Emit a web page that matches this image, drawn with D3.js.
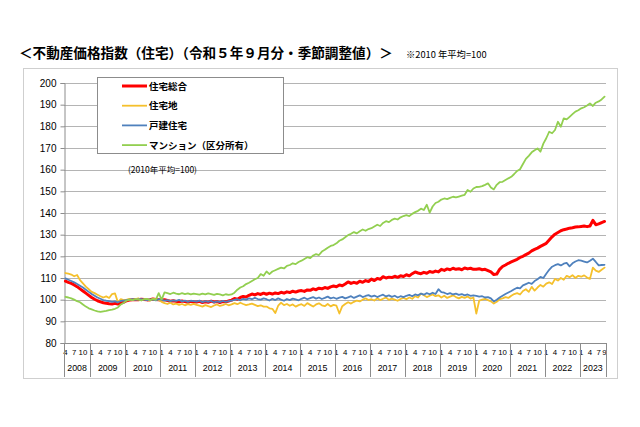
<!DOCTYPE html>
<html><head><meta charset="utf-8">
<script src="https://cdn.jsdelivr.net/npm/d3@7"></script>
<style>
html,body{margin:0;padding:0;background:#fff;}
svg{display:block;}
</style></head>
<body>
<svg id="c" width="640" height="427"></svg>
<script>
// ---- data (monthly, Apr 2008 - Sep 2023) ----
const startYear = 2008, startMonth = 4;
const yearLabels = ["2008","2009","2010","2011","2012","2013","2014","2015","2016","2017","2018","2019","2020","2021","2022","2023"];
const yTicks = [80,90,100,110,120,130,140,150,160,170,180,190,200];
const seriesNames = ["住宅総合","住宅地","戸建住宅","マンション（区分所有）"];

const totalHousing = [
 108.6,108.0,107.5,106.8,106.0,105.0,104.0,103.0,102.0,
 101.0,100.2,99.5,99.0,98.6,98.3,98.1,98.0,98.3,98.0,98.5,98.8,
 99.5,99.8,100.0,100.1,100.0,100.2,100.1,99.9,100.0,100.3,100.1,100.0,
 99.8,100.0,99.6,99.3,99.5,99.2,99.0,99.4,99.1,98.8,99.2,99.0,
 98.9,99.2,98.7,99.0,98.8,99.3,98.9,99.1,98.7,99.2,99.0,99.4,
 99.8,100.5,100.2,101.0,101.5,101.2,102.0,102.6,102.2,102.8,102.4,103.0,
 102.5,103.0,102.6,103.1,102.8,103.4,103.0,103.6,103.3,103.9,103.5,104.0,
 104.2,103.8,104.5,104.3,105.0,104.6,105.3,105.0,105.6,105.2,105.9,106.3,
 106.0,106.8,106.4,107.2,108.2,107.5,108.0,107.6,108.5,108.0,108.8,108.4,
 109.5,108.8,109.8,109.4,110.6,110.0,110.4,110.2,110.8,110.3,111.0,110.7,
 111.5,111.0,112.0,112.8,112.3,112.0,112.6,112.2,113.0,112.6,113.2,112.8,
 114.0,113.5,114.2,113.8,114.5,114.0,114.3,113.8,114.6,114.2,114.5,114.0,
 114.0,114.3,113.8,114.0,113.4,112.8,111.6,111.8,114.0,115.3,116.0,116.8,
 117.4,118.0,118.6,119.5,120.0,120.8,121.5,122.5,123.2,123.8,124.6,125.3,
 126.0,127.5,129.0,130.2,131.0,131.8,132.3,132.6,133.0,133.2,133.5,133.6,
 133.8,134.0,133.7,134.0,136.6,134.6,135.0,135.6,136.1
];
const residentialLand = [
 112.3,112.0,111.6,110.8,111.4,109.0,107.5,106.0,104.8,
 103.6,103.0,102.3,101.6,101.0,101.5,100.8,102.6,102.9,98.8,100.2,99.8,
 100.0,100.4,99.8,100.3,100.6,99.7,100.2,100.0,99.6,100.4,100.2,99.9,
 99.0,98.4,98.0,98.6,97.8,98.2,97.6,98.0,97.4,97.9,97.6,98.1,
 97.6,97.2,96.8,97.5,97.0,96.6,97.3,97.8,97.1,97.5,98.0,97.4,
 97.8,98.4,97.9,98.6,98.0,97.5,97.8,98.2,97.6,97.0,97.4,96.8,
 96.8,96.0,95.8,93.8,97.2,98.6,97.5,98.0,97.2,97.8,96.8,97.5,
 97.9,97.1,98.4,97.6,96.8,97.8,98.3,97.4,97.0,98.0,96.9,97.6,
 97.2,93.6,97.0,98.0,98.8,98.2,99.0,99.6,99.2,100.0,100.6,99.8,
 100.2,99.6,100.6,99.8,100.4,101.0,99.9,100.5,100.0,99.5,100.3,100.8,
 100.2,101.0,100.4,101.6,101.0,102.8,102.0,101.2,101.8,102.4,101.6,102.0,
 101.0,101.8,100.8,101.4,102.0,101.2,100.6,101.3,100.8,101.5,100.5,101.0,
 93.6,99.6,100.0,100.4,99.8,99.2,98.2,99.0,100.2,100.6,101.2,100.8,
 101.8,102.6,103.0,102.4,104.0,104.8,103.6,105.9,104.2,105.6,106.8,106.0,
 107.4,108.0,107.2,109.6,108.8,110.0,109.2,111.0,110.4,111.3,110.0,111.0,
 110.6,111.2,110.2,109.6,114.8,113.4,112.8,113.8,114.8
];
const detachedHouses = [
 109.8,109.2,108.6,108.0,107.2,106.4,105.6,104.6,103.6,
 102.6,101.8,101.0,100.4,99.8,99.5,99.3,99.0,99.2,98.8,99.4,99.6,
 99.8,100.0,100.2,99.9,100.1,100.3,100.0,99.8,100.1,100.0,99.7,100.2,
 100.0,99.6,99.8,99.3,99.7,99.4,99.9,99.2,99.6,99.0,99.5,99.3,
 99.1,99.6,98.8,99.3,99.0,99.5,98.7,99.2,98.9,99.4,99.0,99.3,
 99.6,99.9,100.2,99.7,100.4,100.0,100.6,100.2,100.8,100.3,100.0,100.6,
 100.2,99.6,100.4,99.8,100.6,100.0,99.5,100.3,99.8,100.5,100.1,99.7,
 100.4,100.9,100.2,100.7,101.2,100.5,101.0,100.3,100.8,101.4,100.6,101.0,
 100.4,100.9,101.3,100.6,101.1,101.6,100.8,101.4,102.0,101.2,101.7,102.1,
 101.4,101.9,101.2,101.8,102.3,101.5,102.0,101.3,101.8,101.0,101.6,101.2,
 101.8,102.2,101.6,102.4,102.0,102.8,102.3,103.0,102.5,103.2,102.6,104.8,
 103.5,103.2,102.6,103.0,102.4,102.8,102.2,102.6,102.0,102.4,101.8,102.0,
 101.8,101.4,101.6,101.0,101.2,100.6,99.2,100.0,101.0,101.8,102.6,103.3,
 104.0,104.8,105.5,105.2,106.6,107.2,107.8,107.3,108.6,109.4,110.5,110.0,
 112.0,113.8,115.2,115.9,116.4,115.8,116.6,117.0,115.4,116.8,117.6,118.2,
 118.0,117.6,117.2,118.0,118.9,117.4,115.8,116.0,116.1
];
const condominiums = [
 101.3,101.0,100.6,100.0,99.3,98.8,97.8,96.8,96.0,
 95.5,95.0,94.6,94.4,94.6,94.8,95.2,95.4,95.8,96.4,97.8,98.6,
 99.6,100.0,99.8,100.3,100.0,99.7,100.2,100.4,99.8,100.2,99.9,103.0,
 100.0,103.4,103.0,102.6,103.2,102.8,102.5,103.0,102.6,102.9,102.4,102.8,
 102.6,102.3,102.8,102.4,102.9,102.6,102.2,102.7,102.4,102.0,102.5,102.2,
 102.4,103.2,104.6,105.6,106.2,107.2,107.8,108.6,109.4,110.0,111.8,111.0,
 113.0,111.8,113.0,113.6,114.2,114.8,114.4,115.6,116.0,116.8,116.4,117.4,
 118.0,118.8,119.6,119.2,120.4,121.0,120.6,122.2,123.0,124.0,124.8,125.2,
 126.0,127.2,127.8,128.8,129.8,130.4,131.2,130.6,131.6,132.4,131.8,132.6,
 133.0,133.8,134.6,134.0,135.4,136.2,135.8,136.8,137.4,137.0,138.0,138.6,
 139.0,138.6,139.6,140.4,141.0,142.0,141.4,143.8,140.2,143.0,144.6,145.2,
 146.2,146.7,146.4,147.0,147.5,147.2,147.6,148.0,148.4,150.6,149.8,151.3,
 152.0,152.1,152.4,153.0,153.7,151.8,150.9,153.0,154.2,154.4,155.2,156.0,
 156.7,158.0,159.4,160.2,162.6,165.0,166.4,168.0,169.0,169.8,168.3,172.0,
 174.5,177.5,176.8,178.3,182.1,179.8,183.7,183.2,184.4,185.6,186.8,187.4,
 188.3,188.8,189.6,190.6,189.4,190.9,191.5,192.4,193.7
];
const seriesValues = [totalHousing, residentialLand, detachedHouses, condominiums];
const seriesColors = ["#ff0000","#f5c02c","#4f81bd","#92cf50"];
const seriesWidths = [3, 1.8, 1.8, 1.8];

// ---- build ----
const nPts = totalHousing.length;
const months = d3.range(nPts).map(i => {
  const m0 = startMonth - 1 + i;
  return {i, year: startYear + Math.floor(m0 / 12), month: (m0 % 12) + 1};
});

const svg = d3.select("#c");
const JP = "'Noto Sans CJK JP','Noto Sans',sans-serif";
const AR = "'Liberation Sans',Arial,sans-serif";

// frame
svg.append("rect").attr("x",23.5).attr("y",68.5).attr("width",594).attr("height",310)
  .attr("fill","#fff").attr("stroke","#cfcfcf").attr("stroke-width",1);

// title
svg.append("text").attr("x",19).attr("y",58)
  .attr("font-family",JP).attr("font-size",13.6).attr("font-weight","bold").attr("fill","#000")
  .text("＜不動産価格指数（住宅）（令和５年９月分・季節調整値）＞");
svg.append("text").attr("x",406).attr("y",58)
  .attr("font-family",JP).attr("font-size",9.3).attr("fill","#000")
  .text("※2010 年平均=100");

const pL = 64, pR = 606, pT = 83, pB = 343;
const x = d3.scaleBand().domain(d3.range(nPts)).range([pL, pR]).padding(0);
const y = d3.scaleLinear().domain([80, 200]).range([pB, pT]);
const cx = i => x(i) + x.bandwidth() / 2;

// gridlines
svg.append("g").selectAll("line").data(yTicks.filter(t => t > 80)).join("line")
  .attr("x1", pL).attr("x2", pR)
  .attr("y1", d => Math.round(y(d)) + 0.5).attr("y2", d => Math.round(y(d)) + 0.5)
  .attr("stroke", "#b4b4b4").attr("stroke-width", 1);

// y axis
const yAxis = d3.axisLeft(y).tickValues(yTicks).tickSize(4).tickPadding(4).tickFormat(d3.format("d"));
const yg = svg.append("g").attr("transform", `translate(${pL + 0.5},0)`).call(yAxis);
yg.select(".domain").attr("stroke", "#8c8c8c");
yg.selectAll(".tick line").attr("stroke", "#8c8c8c");
yg.selectAll(".tick text").attr("font-family", AR).attr("font-size", 10).attr("fill", "#000");

// x axis line
svg.append("line").attr("x1", pL).attr("x2", pR).attr("y1", pB + 0.5).attr("y2", pB + 0.5)
  .attr("stroke", "#8c8c8c");

// month labels
const monthTicks = months.filter(d => d.i % 3 === 0 || d.i === nPts - 1);
svg.append("g").selectAll("text").data(monthTicks).join("text")
  .attr("x", d => cx(d.i)).attr("y", 355)
  .attr("text-anchor", "middle").attr("font-family", AR).attr("font-size", 7.8).attr("fill", "#000")
  .text(d => d.month);

// year separators and labels
const yearSpans = yearLabels.map(yl => {
  const ms = months.filter(d => d.year === +yl);
  return {label: yl, first: ms[0].i, last: ms[ms.length - 1].i};
});
const sepIdx = yearSpans.map(d => d.first).concat([nPts]);
svg.append("g").selectAll("line").data(sepIdx).join("line")
  .attr("x1", d => Math.round(d < nPts ? x(d) : pR) + 0.5)
  .attr("x2", d => Math.round(d < nPts ? x(d) : pR) + 0.5)
  .attr("y1", pB).attr("y2", 377)
  .attr("stroke", "#8c8c8c");
svg.append("g").selectAll("text").data(yearSpans).join("text")
  .attr("x", d => (x(d.first) + x(d.last) + x.bandwidth()) / 2).attr("y", 371)
  .attr("text-anchor", "middle").attr("font-family", AR).attr("font-size", 8.8).attr("fill", "#000")
  .text(d => d.label);

// series lines
const line = d3.line().x((d, i) => cx(i)).y(d => y(d));
seriesValues.forEach((vals, k) => {
  svg.append("path").datum(vals).attr("d", line)
    .attr("fill", "none").attr("stroke", seriesColors[k]).attr("stroke-width", seriesWidths[k])
    .attr("stroke-linejoin", "round").attr("stroke-linecap", "round");
});

// legend
const lg = svg.append("g");
lg.append("rect").attr("x", 97.5).attr("y", 77.5).attr("width", 186).attr("height", 76)
  .attr("fill", "#fff").attr("stroke", "#8c8c8c");
seriesNames.forEach((name, k) => {
  const yy = 86 + k * 19.7;
  lg.append("line").attr("x1", 122).attr("x2", 147).attr("y1", yy).attr("y2", yy)
    .attr("stroke", seriesColors[k]).attr("stroke-width", seriesWidths[k]);
  lg.append("text").attr("x", 149).attr("y", yy + 3.5)
    .attr("font-family", JP).attr("font-size", 9.5).attr("font-weight", "bold").attr("fill", "#000")
    .text(name);
});
svg.append("text").attr("x", 128).attr("y", 173)
  .attr("font-family", JP).attr("font-size", 8.5).attr("fill", "#000")
  .text("(2010年平均=100)");
</script>
</body></html>
